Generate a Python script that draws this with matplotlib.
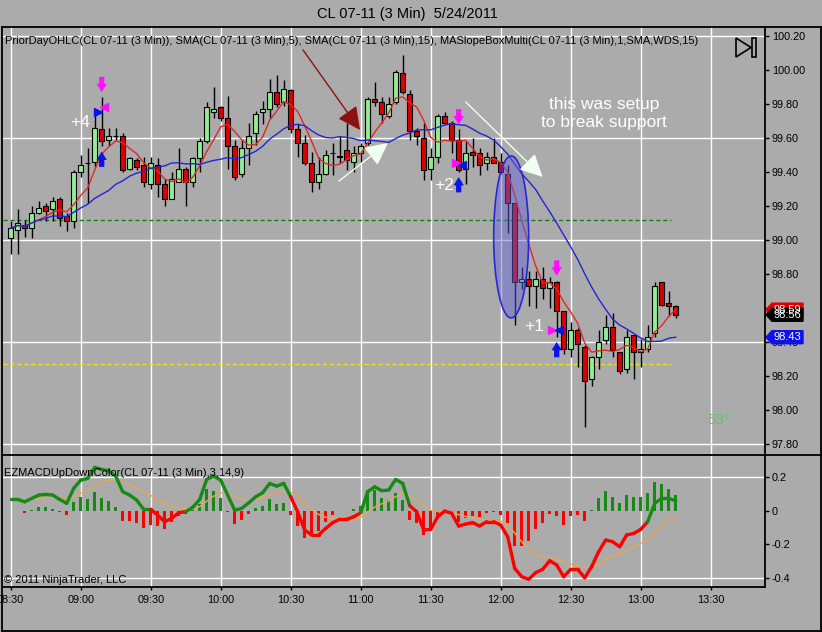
import matplotlib
matplotlib.use('Agg')
import matplotlib.pyplot as plt
import matplotlib.transforms as mtransforms
from matplotlib.patches import Ellipse, Polygon, Rectangle
from matplotlib.collections import LineCollection
import numpy as np
import pandas as pd

plt.rcParams['font.family'] = ['Liberation Sans', 'DejaVu Sans']

# 3 min bars, 08:30 .. 13:15
opens = [99.01, 99.06, 99.09, 99.07, 99.16, 99.20, 99.18, 99.24, 99.14, 99.11,
         99.40, 99.45, 99.46, 99.65, 99.59, 99.61, 99.61, 99.42, 99.47, 99.44,
         99.33, 99.44, 99.33, 99.24, 99.34, 99.42, 99.34, 99.48, 99.58, 99.75,
         99.78, 99.72, 99.55, 99.39, 99.54, 99.63, 99.75, 99.77, 99.87, 99.81,
         99.88, 99.65, 99.57, 99.45, 99.34, 99.39, 99.51, 99.49, 99.53, 99.46,
         99.51, 99.57, 99.83, 99.81, 99.73, 99.81, 99.98, 99.86, 99.64, 99.60,
         99.42, 99.49, 99.73, 99.69, 99.59, 99.42, 99.52, 99.51, 99.45, 99.49,
         99.46, 99.39, 99.22, 98.75, 98.77, 98.73, 98.77, 98.72, 98.75, 98.58,
         98.36, 98.47, 98.37, 98.18, 98.31, 98.41, 98.49, 98.34, 98.24, 98.44,
         98.34, 98.36, 98.45, 98.75, 98.63, 98.61]
highs = [99.11, 99.18, 99.12, 99.20, 99.23, 99.22, 99.25, 99.25, 99.16, 99.41,
         99.50, 99.54, 99.75, 99.84, 99.66, 99.66, 99.63, 99.49, 99.48, 99.49,
         99.49, 99.48, 99.36, 99.40, 99.54, 99.43, 99.49, 99.60, 99.81, 99.90,
         99.79, 99.85, 99.59, 99.59, 99.69, 99.76, 99.82, 99.95, 99.97, 99.94,
         99.89, 99.68, 99.62, 99.52, 99.49, 99.53, 99.57, 99.61, 99.69, 99.55,
         99.57, 99.84, 99.93, 99.84, 99.84, 100.00, 100.09, 99.88, 99.66, 99.69,
         99.54, 99.74, 99.75, 99.70, 99.65, 99.58, 99.60, 99.54, 99.52, 99.60,
         99.51, 99.44, 99.22, 98.84, 98.82, 98.82, 98.84, 98.78, 98.76, 98.58,
         98.52, 98.48, 98.38, 98.32, 98.47, 98.56, 98.57, 98.34, 98.47, 98.44,
         98.42, 98.50, 98.75, 98.75, 98.70, 98.62]
lows = [98.92, 98.92, 99.02, 99.01, 99.15, 99.11, 99.11, 99.08, 99.05, 99.07,
        99.37, 99.22, 99.43, 99.55, 99.55, 99.59, 99.40, 99.41, 99.41, 99.31,
        99.30, 99.25, 99.20, 99.24, 99.34, 99.20, 99.31, 99.40, 99.57, 99.72,
        99.70, 99.42, 99.35, 99.37, 99.44, 99.56, 99.68, 99.72, 99.78, 99.79,
        99.63, 99.49, 99.44, 99.28, 99.30, 99.38, 99.38, 99.45, 99.41, 99.40,
        99.46, 99.56, 99.79, 99.69, 99.72, 99.80, 99.86, 99.59, 99.56, 99.35,
        99.35, 99.45, 99.68, 99.51, 99.40, 99.33, 99.43, 99.38, 99.41, 99.45,
        99.39, 99.04, 98.50, 98.71, 98.61, 98.60, 98.65, 98.60, 98.43, 98.33,
        98.31, 98.25, 97.90, 98.14, 98.24, 98.39, 98.31, 98.21, 98.22, 98.18,
        98.25, 98.34, 98.43, 98.61, 98.55, 98.54]
closes = [99.07, 99.10, 99.07, 99.16, 99.19, 99.17, 99.23, 99.13, 99.11, 99.40,
          99.44, 99.45, 99.66, 99.58, 99.61, 99.61, 99.41, 99.48, 99.43, 99.34,
          99.45, 99.33, 99.24, 99.36, 99.42, 99.34, 99.48, 99.58, 99.78, 99.77,
          99.72, 99.55, 99.37, 99.54, 99.61, 99.74, 99.77, 99.87, 99.80, 99.89,
          99.65, 99.57, 99.45, 99.34, 99.39, 99.50, 99.51, 99.49, 99.47, 99.51,
          99.55, 99.83, 99.81, 99.74, 99.80, 99.99, 99.87, 99.64, 99.61, 99.41,
          99.49, 99.73, 99.69, 99.59, 99.41, 99.51, 99.50, 99.44, 99.49, 99.45,
          99.40, 99.22, 98.75, 98.77, 98.73, 98.77, 98.72, 98.75, 98.58, 98.36,
          98.47, 98.39, 98.17, 98.31, 98.40, 98.49, 98.35, 98.23, 98.43, 98.34,
          98.36, 98.43, 98.73, 98.62, 98.61, 98.56]

# EZMACD line
macd = [0.067, 0.067, 0.053, 0.073, 0.093, 0.097, 0.093, 0.067, 0.044, 0.133,
        0.182, 0.192, 0.257, 0.245, 0.237, 0.206, 0.113, 0.093, 0.063, 0.008,
        0.008, -0.026, -0.065, -0.045, -0.012, -0.006, 0.020, 0.067, 0.186, 0.206,
        0.182, 0.093, 0.003, 0.014, 0.047, 0.083, 0.107, 0.162, 0.146, 0.162,
        0.083, -0.006, -0.115, -0.144, -0.144, -0.105, -0.071, -0.051, -0.051, -0.036,
        -0.012, 0.113, 0.142, 0.119, 0.123, 0.186, 0.162, 0.030, -0.006, -0.115,
        -0.111, -0.036, -0.002, -0.016, -0.091, -0.079, -0.071, -0.091, -0.065, -0.065,
        -0.085, -0.154, -0.342, -0.392, -0.407, -0.368, -0.348, -0.297, -0.322, -0.392,
        -0.348, -0.348, -0.398, -0.332, -0.243, -0.174, -0.184, -0.214, -0.144, -0.135,
        -0.111, -0.065, 0.044, 0.073, 0.073, 0.059]

time_labels = ['08:30', '09:00', '09:30', '10:00', '10:30', '11:00',
               '11:30', '12:00', '12:30', '13:00', '13:30']
price_ticks = [97.8, 98.0, 98.2, 98.4, 98.6, 98.8, 99.0, 99.2, 99.4, 99.6, 99.8, 100.0, 100.2]
price_grid = [97.8, 98.4, 99.0, 99.6, 100.2]
macd_ticks = [0.2, 0.0, -0.2, -0.4]
macd_tick_labels = ['0.2', '0', '-0.2', '-0.4']
prior_green = 99.12
prior_yellow = 98.27

# trade marks
mark_bars = [13, 64, 78]
mark_text = ['+4', '+2', '+1']

bg = '#ABABAB'
up_col = '#90EE90'
dn_col = '#DD0000'
W, H = 822, 632

fig = plt.figure(figsize=(W / 100, H / 100), dpi=100, facecolor=bg)

def fx(px):
    return px / W

def fy(py):
    return 1 - py / H

ax = fig.add_axes([fx(3), fy(455), fx(765) - fx(3), fy(27) - fy(455)], facecolor=bg)
axm = fig.add_axes([fx(3), fy(587), fx(765) - fx(3), fy(455) - fy(587)], facecolor=bg, sharex=ax)

n = len(closes)
idx = np.arange(n)
o = np.array(opens)
c = np.array(closes)

# grid
for a in (ax, axm):
    for k in range(0, 110, 10):
        a.axvline(k, color='white', lw=1, zorder=1)
    for s in a.spines.values():
        s.set_visible(False)
for p in price_grid:
    ax.axhline(p, color='white', lw=1, zorder=1)
for p in (0.2, -0.4):
    axm.axhline(p, color='white', lw=1, zorder=1)

# prior day lines
ax.hlines(prior_green, -1.1, 94.4, color='#1C7A1C', lw=1, linestyles=(0, (3, 2)), zorder=2)
ax.hlines(prior_yellow, -1.1, 94.4, color='#E8E810', lw=1, linestyles=(0, (3, 2)), zorder=2)

# candles
ax.vlines(idx, lows, highs, color='black', lw=1, zorder=3)
body_col = np.where(c > o, up_col, np.where(c < o, dn_col, 'black'))
ax.bar(idx, np.maximum(np.abs(c - o), 0.004), bottom=np.minimum(o, c), width=0.68,
       color=body_col, edgecolor='black', linewidth=0.8, zorder=4)

# moving averages
cs = pd.Series(closes)
sma5 = cs.rolling(5, min_periods=1).mean()
sma15 = cs.rolling(15, min_periods=1).mean()
ax.plot(idx, sma5, color='#E02828', lw=1, zorder=5)
ax.plot(idx, sma15, color='#2424D4', lw=1, zorder=5)

# trade arrows and labels
arrow_style = 'simple,head_length=0.6,head_width=0.75,tail_width=0.38'
for b, t in zip(mark_bars, mark_text):
    hi = highs[b]
    lo = lows[b]
    ax.annotate('', xy=(b, hi + 0.03), xytext=(b, hi + 0.12),
                arrowprops=dict(arrowstyle=arrow_style, color='#FF10FF', lw=0,
                                mutation_scale=10, shrinkA=0, shrinkB=0), zorder=7)
    ax.annotate('', xy=(b, lo - 0.03), xytext=(b, lo - 0.12),
                arrowprops=dict(arrowstyle=arrow_style, color='#0A14E6', lw=0,
                                mutation_scale=10, shrinkA=0, shrinkB=0), zorder=7)
ax.plot([12.5], [99.75], marker='>', color='#0A14E6', ms=5.5, zorder=7)
ax.plot([13.3], [99.78], marker='<', color='#FF10FF', ms=5.5, zorder=7)
ax.plot([63.6], [99.45], marker='>', color='#FF10FF', ms=5.5, zorder=7)
ax.plot([64.5], [99.44], marker='<', color='#0A14E6', ms=5.5, zorder=7)
ax.plot([77.4], [98.47], marker='>', color='#FF10FF', ms=5.5, zorder=7)
ax.plot([78.3], [98.47], marker='<', color='#0A14E6', ms=5.5, zorder=7)
ax.text(9.9, 99.69, '+4', color='white', fontsize=12.5, ha='center', va='center', zorder=8)
ax.text(61.9, 99.32, '+2', color='white', fontsize=12.5, ha='center', va='center', zorder=8)
ax.text(74.8, 98.49, '+1', color='white', fontsize=12.5, ha='center', va='center', zorder=8)

# drawn arrows
ax.annotate('', xy=(49.9, 99.647), xytext=(41.76, 100.118),
            arrowprops=dict(arrowstyle='-|>,head_length=0.7,head_width=0.35', color='#8B1212',
                            lw=1, mutation_scale=20, shrinkA=0, shrinkB=0), zorder=8)
ax.annotate('', xy=(53.9, 99.571), xytext=(46.9, 99.347),
            arrowprops=dict(arrowstyle='-|>,head_length=0.7,head_width=0.35', color='#F0FFF0',
                            lw=1, mutation_scale=20, shrinkA=0, shrinkB=0), zorder=8)
ax.annotate('', xy=(76.0, 99.371), xytext=(65.0, 99.812),
            arrowprops=dict(arrowstyle='-|>,head_length=0.7,head_width=0.35', color='#F0FFF0',
                            lw=1, mutation_scale=20, shrinkA=0, shrinkB=0), zorder=8)

ax.add_patch(Ellipse((71.5, 99.018), width=5.0, height=0.953, facecolor=(0.38, 0.38, 0.85, 0.45),
                     edgecolor='#2828D8', lw=1.2, zorder=6))

ax.text(84.76, 99.747, 'this was setup\nto break support', color='white', fontsize=12.5,
        ha='center', va='center', linespacing=1.25, zorder=8)
ax.text(101.2, 97.94, '53°', color='#6CC06C', fontsize=11, ha='center', va='center', zorder=8)

ax.set_xlim(-1.1, 107.76)
ax.set_ylim(97.735, 100.253)
ax.yaxis.tick_right()
ax.set_yticks(price_ticks)
ax.set_yticklabels(['%.2f' % p for p in price_ticks])
ax.tick_params(axis='y', direction='out', length=3, width=1, pad=2, labelsize=7.8, colors='black')
ax.tick_params(axis='x', bottom=False, labelbottom=False)

# price tags on the axis
tr = mtransforms.blended_transform_factory(ax.transAxes, ax.transData)
x0, x1, x2 = 1 + 1 / 762, 1 + 7 / 762, 1 + 38 / 762
hh = 6.5 / 170
for p, col in ((float(sma5.iloc[-1]), '#E00000'), (closes[-1], 'black'), (float(sma15.iloc[-1]), '#1010E8')):
    ax.add_patch(Polygon([(x0, p), (x1, p + hh), (x2, p + hh), (x2, p - hh), (x1, p - hh)],
                         closed=True, facecolor=col, edgecolor=col, transform=tr, clip_on=False, zorder=9))
    ax.text((x1 + x2) / 2, p, '%.2f' % p, color='white', fontsize=8, ha='center', va='center',
            transform=tr, clip_on=False, zorder=10)

# MACD panel
m = pd.Series(macd)
sig = m.ewm(span=9, adjust=False).mean()
hist = m - sig
axm.bar(idx, hist, width=0.45, color=np.where(hist >= 0, '#168A16', '#FF0000'), zorder=3)
axm.plot(idx, sig, color='#E8A850', lw=1, zorder=4)
pts = np.column_stack([idx, macd])
segs = [[pts[k - 1], pts[k]] for k in range(1, n)]
seg_cols = ['#168A16' if macd[k] >= 0 else '#FF0000' for k in range(1, n)]
axm.add_collection(LineCollection(segs, colors=seg_cols, linewidths=2.4, capstyle='round',
                                  joinstyle='round', zorder=5))
axm.set_ylim(-0.453, 0.331)
axm.yaxis.tick_right()
axm.set_yticks(macd_ticks)
axm.set_yticklabels(macd_tick_labels)
axm.set_xticks(range(0, 110, 10))
axm.set_xticklabels(time_labels)
axm.tick_params(axis='y', direction='out', length=3, width=1, pad=2, labelsize=7.8, colors='black')
axm.tick_params(axis='x', direction='out', length=2.5, width=1, pad=3, labelsize=7.8, colors='black')

# frame, title and labels in pixel space
ov = fig.add_axes([0, 0, 1, 1], zorder=10)
ov.set_xlim(0, W)
ov.set_ylim(H, 0)
ov.axis('off')
ov.patch.set_alpha(0)
frame = [((2, 27), (821, 27)), ((2, 27), (2, 631)), ((820.5, 27), (820.5, 631)),
         ((2, 631), (821, 631)), ((2, 455), (821, 455)), ((765, 27), (765, 587)),
         ((2, 587), (765, 587))]
for (xa, ya), (xb, yb) in frame:
    ov.plot([xa, xb], [ya, yb], color='black', lw=1.3)
ov.text(407, 14, 'CL 07-11 (3 Min)  5/24/2011', fontsize=10.5, ha='center', va='center')
ov.text(5, 41, 'PriorDayOHLC(CL 07-11 (3 Min)), SMA(CL 07-11 (3 Min),5), SMA(CL 07-11 (3 Min),15), '
        'MASlopeBoxMulti(CL 07-11 (3 Min),1,SMA,WDS,15)', fontsize=8, ha='left', va='center')
ov.text(4, 473, 'EZMACDUpDownColor(CL 07-11 (3 Min),3,14,9)', fontsize=8, ha='left', va='center')
ov.text(4, 580, '© 2011 NinjaTrader, LLC', fontsize=8, ha='left', va='center')
ov.add_patch(Polygon([(736, 38), (736, 57), (751, 47.5)], closed=True, fill=False, edgecolor='black', lw=1.2))
ov.add_patch(Rectangle((752, 38), 4, 19, fill=False, edgecolor='black', lw=1.2))

fig.savefig('out.png', dpi=100, facecolor=bg)
